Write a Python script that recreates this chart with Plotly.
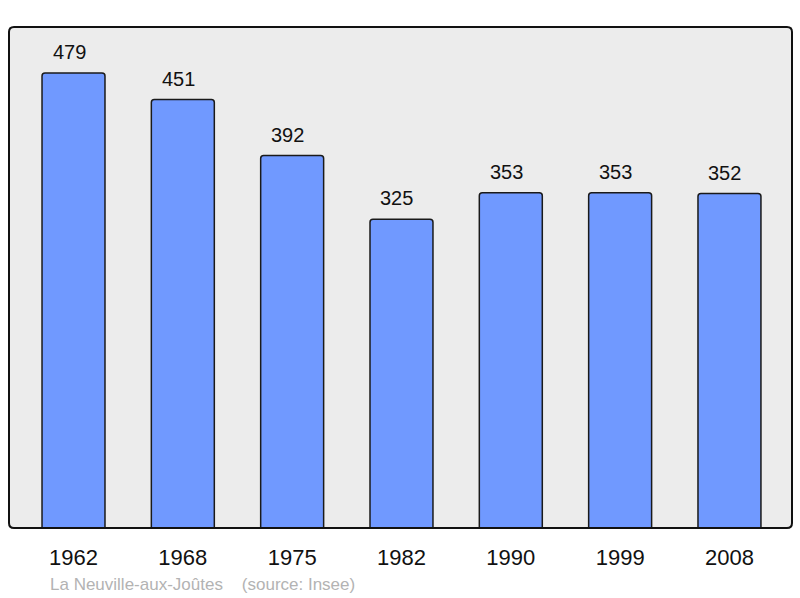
import plotly.graph_objects as go

years = ["1962", "1968", "1975", "1982", "1990", "1999", "2008"]
population = [479, 451, 392, 325, 353, 353, 352]
caption = "La Neuville-aux-Joûtes    (source: Insee)"

W, H = 800, 598
ml, mr, mt, mb = 9, 8, 27, 70
pw, ph = W - ml - mr, H - mt - mb

fig = go.Figure()
fig.add_trace(go.Bar(
    x=years, y=population,
    width=0.576,
    marker=dict(color="#7099FF", line=dict(color="#1a1a1a", width=1.5), cornerradius=3),
    hoverinfo="skip",
))

annotations = []
for i, v in enumerate(population):
    annotations.append(dict(x=i, y=v, xref="x", yref="y", text=str(v), showarrow=False,
                            yanchor="bottom", yshift=8, xshift=-4.5,
                            font=dict(size=20, color="#111")))

annotations.append(dict(x=(48 - ml) / pw, y=-(584 - mt - ph) / ph, xref="paper", yref="paper",
                        xanchor="left", yanchor="middle", text=caption, showarrow=False,
                        font=dict(size=17, color="#b3b3b3")))

# rounded border of plot area
rx, ry = 5 / pw, 5 / ph
path = (f"M {rx},0 L {1-rx},0 Q 1,0 1,{ry} L 1,{1-ry} Q 1,1 {1-rx},1 "
        f"L {rx},1 Q 0,1 0,{1-ry} L 0,{ry} Q 0,0 {rx},0 Z")

fig.update_layout(
    width=W, height=H,
    margin=dict(l=ml, r=mr, t=mt, b=mb),
    paper_bgcolor="white", plot_bgcolor="#ECECEC",
    showlegend=False,
    font=dict(family="Liberation Sans, Arial"),
    annotations=annotations,
    shapes=[dict(type="path", path=path, xref="paper", yref="paper",
                 line=dict(color="#111", width=2), layer="above")],
    xaxis=dict(type="category", range=[-0.59, 6.572], showgrid=False, zeroline=False,
               showline=False, ticks="outside", ticklen=10, tickcolor="rgba(0,0,0,0)",
               tickfont=dict(size=22, color="#111")),
    yaxis=dict(range=[0, 527.4], showgrid=False, zeroline=False, showticklabels=False),
)

fig.write_html("out.html", config={"displayModeBar": False},
               post_script="document.body.style.margin='0';")
